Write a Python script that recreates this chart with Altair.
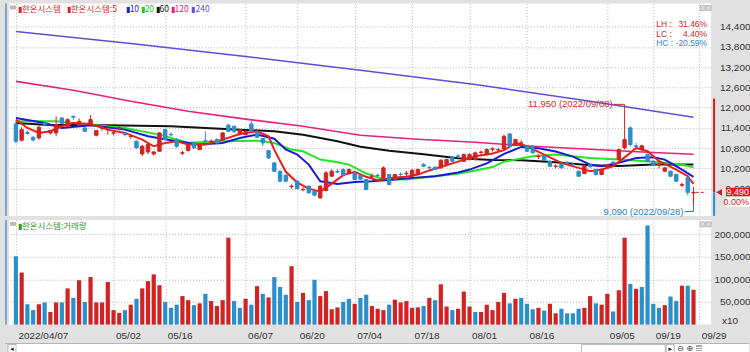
import altair as alt
import pandas as pd

# ---------------- data ----------------
opens = [11517, 11034, 11270, 11122, 11103, 11540, 11251, 11251, 11695, 11448,
         11744, 11478, 11399, 11515, 11182, 11390, 11340, 11245, 11390, 11251,
         11145, 11004, 10629, 10688, 10629, 10708, 11349, 11210, 11053, 10650,
         10728, 10955, 10757, 11020, 10995, 11053, 11053, 11480, 11448, 11201,
         11201, 11517, 11280, 11083, 10728, 10363, 10116, 9998, 9660, 9820,
         9565, 9672, 9524, 9327, 9544, 9968, 10110, 10165, 10067, 10067,
         9990, 9869, 9955, 9995, 9919, 10017, 9869, 10025, 10040, 9968,
         10017, 10313, 10225, 10234, 10215, 10313, 10530, 10570, 10412, 10461,
         10461, 10670, 10609, 10765, 10745, 10777, 11221, 10876, 10945, 10856,
         10856, 10550, 10580, 10412, 10255, 10313, 10380, 10325, 10116, 10047,
         10313, 10165, 10017, 10244, 10380, 10461, 10807, 11400, 10870, 10757,
         10610, 10412, 10300, 10116, 10116, 10017, 9700, 9919, 9470]
highs = [11600, 11420, 11320, 11150, 11480, 11580, 11330, 11744, 11720, 11680,
         11760, 11680, 11420, 11780, 11340, 11460, 11500, 11300, 11450, 11290,
         11220, 11030, 10900, 10950, 10700, 11280, 11380, 11260, 11100, 10720,
         10920, 10990, 10940, 11300, 11060, 11100, 11280, 11520, 11470, 11380,
         11330, 11600, 11300, 11100, 10750, 10380, 10140, 10020, 9730, 9850,
         9640, 9700, 9540, 9700, 10120, 10180, 10180, 10200, 10200, 10100,
         10020, 9900, 10050, 10040, 10260, 10040, 10040, 10080, 10120, 10180,
         10200, 10360, 10270, 10260, 10470, 10490, 10560, 10620, 10640, 10650,
         10700, 10730, 10800, 10830, 10800, 11200, 11240, 11080, 11040, 10880,
         10900, 10620, 10600, 10430, 10320, 10340, 10420, 10370, 10140, 10290,
         10340, 10190, 10190, 10330, 10420, 10780, 11950, 11450, 10950, 10900,
         10640, 10440, 10420, 10240, 10140, 10040, 9780, 9950, 9650]
lows = [10950, 11000, 11200, 11000, 11050, 11450, 11200, 11152, 11520, 11420,
        11640, 11450, 11280, 11470, 11150, 11320, 11200, 11180, 11330, 11150,
        11080, 10800, 10560, 10620, 10580, 10700, 11030, 11150, 10800, 10600,
        10700, 10780, 10740, 10980, 10950, 10930, 11030, 11280, 11250, 11180,
        11180, 11280, 11100, 10860, 10480, 10090, 9800, 9800, 9600, 9580,
        9520, 9460, 9390, 9300, 9520, 9950, 10060, 9970, 10040, 9850,
        9860, 9550, 9900, 9940, 9900, 9700, 9850, 9980, 9960, 9950,
        10000, 10240, 10180, 10150, 10200, 10300, 10380, 10520, 10390, 10440,
        10440, 10600, 10590, 10700, 10690, 10760, 10850, 10860, 10900, 10690,
        10640, 10480, 10420, 10240, 10200, 10200, 10330, 10280, 9950, 10030,
        10230, 9990, 10000, 10220, 10330, 10440, 10760, 10850, 10800, 10740,
        10400, 10290, 10200, 10100, 9950, 9800, 9650, 9400, 9090]
closes = [11004, 11349, 11240, 11043, 11418, 11497, 11320, 11497, 11537, 11645,
          11720, 11596, 11300, 11645, 11320, 11405, 11355, 11255, 11405, 11201,
          11160, 10807, 10856, 10905, 10688, 11251, 11053, 11195, 10856, 10665,
          10886, 10807, 10905, 11000, 11010, 10955, 11251, 11300, 11300, 11349,
          11300, 11300, 11122, 10955, 10511, 10116, 9820, 9820, 9675, 9603,
          9580, 9475, 9406, 9672, 10067, 10116, 10090, 9998, 10165, 9869,
          9880, 9573, 9968, 9988, 10215, 9722, 10017, 10017, 10055, 10146,
          10165, 10264, 10215, 10165, 10442, 10461, 10412, 10560, 10609, 10609,
          10659, 10685, 10757, 10780, 10760, 11152, 10856, 11053, 10960, 10708,
          10659, 10565, 10442, 10264, 10270, 10215, 10350, 10313, 9968, 10264,
          10244, 10017, 10165, 10313, 10355, 10757, 11053, 10905, 10850, 10870,
          10412, 10313, 10330, 10215, 9968, 9820, 9720, 9490, 9490]
volumes = [151000, 115000, 45000, 32000, 45000, 49000, 28000, 49000, 49000, 80000,
           59000, 98000, 50000, 105000, 49000, 49000, 94000, 32000, 26000, 32000,
           44000, 57000, 80000, 96000, 111000, 87000, 50000, 37000, 44000, 63000,
           54000, 43000, 47000, 68000, 52000, 41000, 54000, 192000, 52000, 37000,
           57000, 44000, 85000, 68000, 60000, 105000, 83000, 66000, 129000, 50000,
           70000, 54000, 99000, 63000, 74000, 34000, 38000, 50000, 57000, 46000,
           59000, 66000, 41000, 35000, 32000, 44000, 55000, 49000, 52000, 37000,
           38000, 41000, 59000, 54000, 89000, 40000, 32000, 35000, 73000, 40000,
           28000, 28000, 44000, 32000, 50000, 70000, 47000, 57000, 59000, 46000,
           34000, 37000, 31000, 46000, 25000, 35000, 25000, 25000, 35000, 37000,
           63000, 47000, 44000, 68000, 29000, 76000, 192000, 90000, 79000, 83000,
           219000, 46000, 37000, 43000, 62000, 52000, 86000, 86000, 77000]
vol_dir = "brbbrbrrbrbrbrrrrrrbrbrrrrbbbrrbrbrrrrbbrbrbrbbbrbrbbrrrrbbrbbrrrbrrrrrbrbrrbrrrbrrrrrbrbbbrbrrbbbbrrbrrbrrbrbbbbrbbrbr"

ma5_x = [0, 2, 4, 6, 8, 10, 13, 16, 19, 22, 24, 26, 28, 30, 33, 36, 39, 42, 44, 45,
         47, 49, 51, 53, 55, 57, 59, 61, 63, 66, 68, 70, 72, 74, 77, 80, 83, 85, 87,
         89, 92, 95, 98, 100, 102, 104, 107, 108, 110, 112, 115, 117, 118]
ma5_y = [11645, 11399, 11251, 11300, 11448, 11547, 11517, 11349, 11251, 11053, 10856,
         10955, 11004, 10905, 10905, 11053, 11221, 11300, 11152, 10750, 10100, 9780,
         9600, 9510, 9750, 10000, 10100, 9950, 9850, 9930, 9950, 10017, 10140, 10240,
         10400, 10560, 10640, 10740, 10955, 10856, 10609, 10363, 10215, 10116, 10165,
         10264, 10659, 10807, 10708, 10412, 10165, 9968, 9740]
ma10_x = [0, 5, 8, 13, 19, 23, 28, 32, 36, 39, 42, 45, 47, 49, 51, 53, 56, 59, 62, 66,
          69, 73, 77, 79, 82, 85, 88, 91, 94, 97, 100, 102, 105, 108, 111, 113, 116, 118]
ma10_y = [11695, 11547, 11399, 11478, 11349, 11152, 11004, 10905, 10955, 11103, 11201,
          11080, 10760, 10609, 10313, 9820, 9741, 9800, 9820, 9869, 9919, 9968, 10080,
          10165, 10350, 10629, 10836, 10800, 10700, 10550, 10313, 10264, 10363, 10510,
          10530, 10461, 10165, 9950]
ma20_x = [0, 7, 13, 19, 25, 30, 36, 42, 45, 48, 50, 53, 56, 58, 61, 64, 68, 73, 77, 80,
          83, 85, 90, 94, 100, 105, 111, 116, 118]
ma20_y = [11596, 11596, 11497, 11399, 11201, 10960, 11004, 11023, 10954, 10757, 10708,
          10462, 10380, 10313, 10050, 9880, 9869, 9968, 10040, 10140, 10240, 10400, 10560,
          10609, 10511, 10461, 10400, 10313, 10230]
ma60_x = [0, 5, 16, 27, 39, 45, 50, 56, 60, 65, 71, 77, 83, 88, 94, 100, 105, 111, 118]
ma60_y = [11546, 11497, 11478, 11448, 11349, 11300, 11200, 11004, 10840, 10720, 10620,
          10500, 10450, 10442, 10382, 10290, 10270, 10313, 10313]
ma120_x = [0, 10, 20, 30, 40, 50, 60, 70, 80, 90, 100, 110, 118]
ma120_y = [12780, 12514, 12188, 11892, 11660, 11450, 11182, 11062, 10974, 10856, 10767,
           10678, 10619]
ma240_x = [0, 20, 40, 60, 80, 100, 118]
ma240_y = [14260, 13905, 13520, 13106, 12690, 12190, 11714]

tick_idx = [0, 17, 26, 40, 49, 59, 69, 79, 89, 103, 111, 119]
tick_lbl = ["2022/04/07", "05/02", "05/16", "06/07", "06/20", "07/04", "07/18",
            "08/01", "08/16", "09/05", "09/19", "09/29"]
price_ticks = [9600, 10200, 10800, 11400, 12000, 12600, 13200, 13800, 14400]
vol_ticks = [50000, 100000, 150000, 200000]

hi_price, hi_idx, hi_label = 11950, 106, "11,950 (2022/09/08)"
lo_price, lo_idx, lo_label = 9090, 118, "9,090 (2022/09/28)"
last_price, last_chg = 9490, "0.00%"
range_top = 12270
stats_names = ["LH :", "LC :", "HC :"]
stats_vals = ["31.46%", "4.40%", "-20.59%"]

legend_items = ["▮한온시스템", "▮한온시스템:5", "▮10", "▮20", "▮60", "▮120", "▮240"]
legend_x = [9, 58, 117, 132, 147, 162, 183]

# ---------------- styling ----------------
RED = "#d22323"
BLUE = "#2b8fcc"
C5, C10, C20, C60, C120, C240 = "#ee1c1c", "#1a1ad6", "#22e622", "#111111", "#e8207f", "#5b4fd8"
BG = "#e1e1e1"
GRID = "#b4b4b4"
W, H1, H2 = 704, 213, 105
X_DOM = [-0.34, 120.2]
P_DOM = [8792, 15089]
V_DOM = [0, 231300]
PX = (P_DOM[1] - P_DOM[0]) / H1  # price units per pixel

N = len(closes)
df = pd.DataFrame({"i": list(range(N)), "o": opens, "h": highs, "l": lows,
                   "c": closes, "v": volumes})
df["dir"] = ["up" if c >= o else "down" for o, c in zip(opens, closes)]
df["vdir"] = ["up" if ch == "r" else "down" for ch in vol_dir]

xs = alt.Scale(domain=X_DOM, nice=False, zero=False)
ys = alt.Scale(domain=P_DOM, nice=False, zero=False)
vs = alt.Scale(domain=V_DOM, nice=False, zero=False)
dir_scale = alt.Scale(domain=["up", "down"], range=[RED, BLUE])

x_grid_axis = alt.Axis(values=tick_idx, labels=False, ticks=False, domain=False,
                       grid=True, title=None)
label_expr = "".join(f"datum.value == {v} ? '{l}' : " for v, l in zip(tick_idx, tick_lbl)) + "''"
x_date_axis = alt.Axis(values=tick_idx, labelExpr=label_expr, ticks=False, domain=False,
                       grid=True, title=None, labelAlign="left", labelOffset=2,
                       labelBaseline="top", labelPadding=6, labelOverlap=False,
                       labelBound=False, labelFlush=False)
num_expr = "format(datum.value, ',d')"
p_axis = alt.Axis(orient="right", values=price_ticks, labelExpr=num_expr, title=None,
                  grid=True, ticks=False, tickSize=0, domain=False, labelAlign="right",
                  labelPadding=39, labelOverlap=False)
v_axis = alt.Axis(orient="right", values=vol_ticks, labelExpr=num_expr, title=None,
                  grid=True, ticks=False, tickSize=0, domain=False, labelAlign="right",
                  labelPadding=39, labelOverlap=False)


def XF(f):
    return alt.X(f, scale=xs, axis=x_grid_axis)


def YF(f):
    return alt.Y(f, scale=ys, axis=p_axis)


def XD(v):
    return alt.X(datum=v, scale=xs, axis=x_grid_axis)


def YD(v):
    return alt.Y(datum=v, scale=ys, axis=p_axis)


one = pd.DataFrame({"k": [0]})


def ptext(text, x, y, color, size=8.5, font="Noto Sans CJK KR", align="left"):
    return alt.Chart(one).mark_text(text=text, align=align, baseline="middle", fontSize=size,
                                    font=font, color=color).encode(
        x=alt.value(x), y=alt.value(y))


def ma_layer(xv, yv, color, width):
    d = pd.DataFrame({"i": xv, "v": yv})
    return alt.Chart(d).mark_line(color=color, strokeWidth=width, clip=True).encode(
        x=XF("i:Q"), y=YF("v:Q"))


def box(x1, x2, y1, y2, color, stroke=None):
    kw = {"color": color}
    if stroke:
        kw.update(stroke=stroke, strokeWidth=0.6)
    return alt.Chart(one).mark_rect(**kw).encode(
        x=alt.value(x1), x2=alt.value(x2), y=alt.value(y1), y2=alt.value(y2))


def edge(h):
    return alt.Chart(one).mark_rule(color="#7aa3d6", strokeWidth=2).encode(
        x=alt.value(-3), y=alt.value(0), y2=alt.value(h))


base = alt.Chart(df)
wicks = base.mark_rule(strokeWidth=1).encode(
    x=XF("i:Q"), y=YF("l:Q"), y2="h:Q",
    color=alt.Color("dir:N", scale=dir_scale, legend=None))
bodies = base.mark_bar(size=3.4, strokeWidth=1).encode(
    x=XF("i:Q"), y=YF("o:Q"), y2="c:Q",
    color=alt.Color("dir:N", scale=dir_scale, legend=None),
    stroke=alt.Stroke("dir:N", scale=dir_scale, legend=None))

HI_C, LO_C = "#c83030", "#2a7fc0"
hi_y = hi_price + 5 * PX
lo_y = lo_price - 5.7 * PX
annot = [
    alt.Chart(one).mark_text(text=hi_label, align="right", baseline="middle", dx=-12,
                             fontSize=9.5, font="Liberation Sans", color=HI_C).encode(
        x=XD(hi_idx), y=YD(hi_y)),
    alt.Chart(one).mark_rule(color=HI_C, strokeWidth=1).encode(
        x=XD(hi_idx - 1.9), x2=alt.datum(hi_idx), y=YD(hi_y)),
    alt.Chart(one).mark_rule(color=HI_C, strokeWidth=1).encode(
        x=XD(hi_idx), y=YD(hi_y), y2=alt.datum(hi_price)),
    alt.Chart(one).mark_text(text=lo_label, align="right", baseline="middle", dx=-10,
                             fontSize=9.5, font="Liberation Sans", color=LO_C).encode(
        x=XD(lo_idx), y=YD(lo_y)),
    alt.Chart(one).mark_rule(color=LO_C, strokeWidth=1).encode(
        x=XD(lo_idx - 1.5), x2=alt.datum(lo_idx), y=YD(lo_y)),
    alt.Chart(one).mark_rule(color=LO_C, strokeWidth=1).encode(
        x=XD(lo_idx), y=YD(lo_y), y2=alt.datum(lo_price)),
    # current price dashed marker
    alt.Chart(one).mark_rule(color=RED, strokeWidth=1, strokeDash=[3, 2]).encode(
        x=XD(lo_idx + 0.4), x2=alt.datum(X_DOM[1]), y=YD(last_price)),
    # range bar at right edge
    alt.Chart(one).mark_rule(color="#c81e1e", strokeWidth=2).encode(
        x=alt.value(W + 3), y=YD(range_top), y2=alt.datum(last_price)),
    alt.Chart(one).mark_rule(color=BLUE, strokeWidth=2).encode(
        x=alt.value(W + 3), y=YD(last_price), y2=alt.datum(P_DOM[0])),
    alt.Chart(one).mark_point(shape="triangle-left", filled=True, size=45, color="#d21e1e",
                              opacity=1).encode(x=alt.value(W + 8), y=YD(last_price)),
    alt.Chart(one).mark_rect(color="#e01818").encode(
        x=alt.value(W + 15), x2=alt.value(W + 39),
        y=YD(last_price + 4.6 * PX), y2=alt.datum(last_price - 4.2 * PX)),
    alt.Chart(one).mark_rect(color="white").encode(
        x=alt.value(W + 15), x2=alt.value(W + 39),
        y=YD(last_price - 4.2 * PX), y2=alt.datum(last_price - 14.5 * PX)),
    alt.Chart(one).mark_text(text=f"{last_price:,}", align="right", baseline="middle",
                             fontSize=9, font="Liberation Sans", color="white").encode(
        x=alt.value(W + 38), y=YD(last_price)),
    alt.Chart(one).mark_text(text=last_chg, align="right", baseline="middle",
                             fontSize=9, font="Liberation Sans", color="#e01818").encode(
        x=alt.value(W + 38), y=YD(last_price - 9.6 * PX)),
]

stat_cols = ["#d02828", "#d02828", "#2a8ac8"]
stats = []
for k in range(3):
    stats.append(ptext(stats_names[k], 649, 21 + 9.5 * k, stat_cols[k], 8.5, "Liberation Sans"))
    stats.append(ptext(stats_vals[k], 700, 21 + 9.5 * k, stat_cols[k], 8.5, "Liberation Sans",
                       align="right"))

leg_cols = [RED, RED, C10, "#22cc22", C60, C120, C240]
legend = [ptext(t, x, 6, c) for t, x, c in zip(legend_items, legend_x, leg_cols)]

leg_box = box(1, 7, 2, 6, "#b9b9b9")
win_btns = [box(W - 11, W - 6, 2, 7, "#dadada", "#9a9a9a"), box(W - 5, W, 2, 7, "#dadada", "#9a9a9a")]

price = alt.layer(
    ma_layer(ma240_x, ma240_y, C240, 1.5),
    ma_layer(ma120_x, ma120_y, C120, 1.6),
    ma_layer(ma60_x, ma60_y, C60, 2),
    ma_layer(ma20_x, ma20_y, C20, 2),
    ma_layer(ma10_x, ma10_y, C10, 2),
    ma_layer(ma5_x, ma5_y, C5, 2),
    wicks, bodies, *annot, *stats, *legend, leg_box, *win_btns, edge(H1),
).resolve_scale(color="independent", stroke="independent").properties(width=W, height=H1)

vol_bars = alt.Chart(df).mark_bar(size=4.2).encode(
    x=alt.X("i:Q", scale=xs, axis=x_date_axis),
    y=alt.Y("v:Q", scale=vs, axis=v_axis),
    color=alt.Color("vdir:N", scale=dir_scale, legend=None))
vol_leg = ptext("▮한온시스템:거래량", 9, 6, "#2f962f")
vol_box = box(1, 7, 2, 6, "#b9b9b9")
vol_x10 = ptext("x10", W + 27, H2 - 4, "#333", 10, "Liberation Sans", align="right")
vol_btns = [box(W - 11, W - 6, 2, 7, "#dadada", "#9a9a9a"), box(W - 5, W, 2, 7, "#dadada", "#9a9a9a")]
volume = alt.layer(vol_bars, vol_leg, vol_box, vol_x10, *vol_btns, edge(H2)).properties(
    width=W, height=H2)

# bottom scroll strip (widgets of the charting window)
scroll = alt.layer(
    alt.Chart(one).mark_rule(color="#9fb4cc", strokeWidth=1).encode(
        x=alt.value(-4), x2=alt.value(742), y=alt.value(0)),
    box(-1, 7, 1, 9, "white", "#8a8a8a"),
    ptext("◂", 3, 5, "#222", 7, "DejaVu Sans", align="center"),
    box(574, 658, 1, 9, "white", "#8a8a8a"),
    box(659, 667, 1, 9, "white", "#8a8a8a"),
    ptext("▸", 663, 5, "#222", 7, "DejaVu Sans", align="center"),
    ptext("⊖ ⊕ ⦙⦙⦙", 670, 5, "#333", 8, "DejaVu Sans"),
).properties(width=742, height=9)

chart = alt.vconcat(price, volume, scroll, spacing=2).properties(
    background=BG, padding={"left": 4, "top": 2, "right": 0, "bottom": 0}
).configure_view(stroke=None, fill="white").configure_axis(
    labelFont="Liberation Sans", labelFontSize=10, labelColor="#333",
    gridColor=GRID, gridDash=[1, 2], gridWidth=1)

chart.save("out.html", embed_options={"renderer": "svg", "actions": False})
